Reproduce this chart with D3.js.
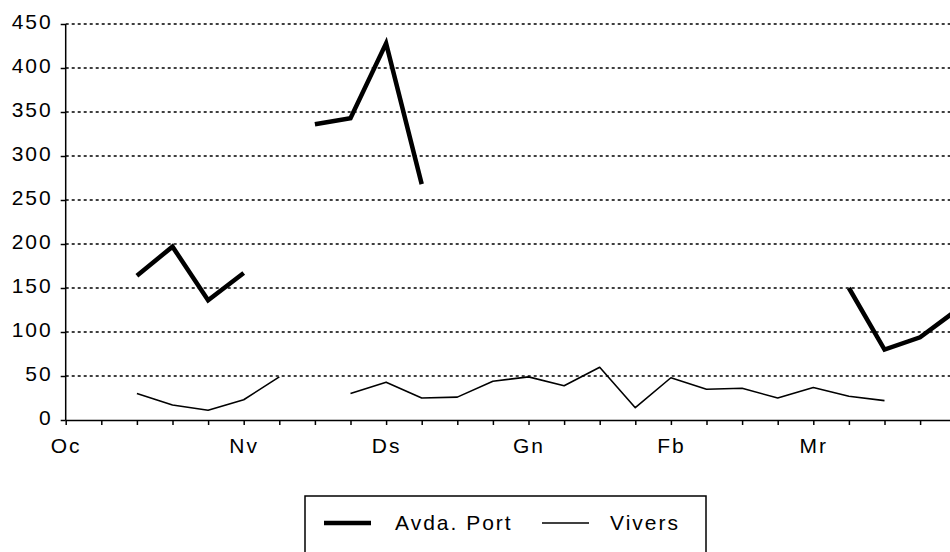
<!DOCTYPE html>
<html>
<head>
<meta charset="utf-8">
<script src="https://cdn.jsdelivr.net/npm/d3@7"></script>
<style>
  body { margin: 0; background: #fff; }
  svg { display: block; font-family: "Liberation Sans", Arial, sans-serif; }
  .axis text { font-size: 21px; letter-spacing: 2px; fill: #000; }
  .axis path, .axis line { stroke: #000; stroke-width: 1.5; }
  .grid line { stroke: #000; stroke-width: 1.5; stroke-dasharray: 3,3; }
</style>
</head>
<body>
<svg id="chart" width="950" height="552"></svg>
<script>
// weekly points, Oc .. Mr (null = no reading)
const weeks = d3.range(0, 26);
const monthLabels = { 0: 'Oc', 5: 'Nv', 9: 'Ds', 13: 'Gn', 17: 'Fb', 21: 'Mr' };
const avdaPort = [null, null, 164, 197, 136, 167, null, 336, 343, 428, 268, null, null,
                  null, null, null, null, null, null, null, null, null, 150, 80, 94, 124];
const vivers = [null, null, 30, 17, 11, 23, 49, null, 30, 43, 25, 26, 44,
                49, 39, 60, 14, 48, 35, 36, 25, 37, 27, 22, null, null];
const yTicks = [0, 50, 100, 150, 200, 250, 300, 350, 400, 450];
const seriesNames = ['Avda. Port', 'Vivers'];

const svg = d3.select('#chart');
const w = 950;

const plotLeft = 65.7, plotTop = 24, plotBottom = 420;

// x: one step per week, the plot runs past the right edge like the original
const x = d3.scaleLinear().domain([0, 25]).range([plotLeft, plotLeft + 25 * 35.6]);
const y = d3.scaleLinear().domain([0, 450]).range([plotBottom, plotTop]);

// dotted gridlines
svg.append('g').attr('class', 'grid')
  .selectAll('line')
  .data(yTicks.filter(d => d > 0))
  .join('line')
  .attr('x1', plotLeft).attr('x2', w)
  .attr('y1', d => y(d)).attr('y2', d => y(d));

// axes
const xAxis = d3.axisBottom(x).tickValues(weeks).tickSize(5).tickPadding(13)
  .tickFormat(i => monthLabels[i] || '');
svg.append('g').attr('class', 'axis')
  .attr('transform', `translate(0 ${plotBottom})`)
  .call(xAxis)
  .call(g => g.select('.domain').attr('d', `M${plotLeft},0.5H${w}`));

const yAxis = d3.axisLeft(y).tickValues(yTicks).tickSize(5).tickPadding(8);
svg.append('g').attr('class', 'axis')
  .attr('transform', `translate(${plotLeft} 0)`)
  .call(yAxis)
  .call(g => g.select('.domain').attr('d', `M0,${plotTop}V${plotBottom}`))
  .call(g => g.selectAll('text').attr('dy', '0.22em'));

// lines, broken where a week has no value
const line = d3.line()
  .defined(d => d != null)
  .x((d, i) => x(i))
  .y(d => y(d));

svg.append('path')
  .datum(vivers)
  .attr('fill', 'none')
  .attr('stroke', '#000')
  .attr('stroke-width', 1.6)
  .attr('stroke-linejoin', 'round')
  .attr('d', line);

svg.append('path')
  .datum(avdaPort)
  .attr('fill', 'none')
  .attr('stroke', '#000')
  .attr('stroke-width', 4.5)
  .attr('stroke-linejoin', 'miter')
  .attr('d', line);

// legend box at the bottom
const legend = svg.append('g').attr('transform', 'translate(305 496)');
legend.append('rect')
  .attr('x', 0).attr('y', 0).attr('width', 401).attr('height', 70)
  .attr('fill', '#fff').attr('stroke', '#000').attr('stroke-width', 1.5);

const items = [
  { name: seriesNames[0], width: 4.5, lx: 19, tx: 90 },
  { name: seriesNames[1], width: 1.6, lx: 237, tx: 305 }
];
items.forEach(it => {
  legend.append('line')
    .attr('x1', it.lx).attr('x2', it.lx + 47)
    .attr('y1', 27).attr('y2', 27)
    .attr('stroke', '#000').attr('stroke-width', it.width);
  legend.append('text')
    .attr('x', it.tx).attr('y', 34)
    .attr('font-size', 21).attr('letter-spacing', '2px')
    .text(it.name);
});
</script>
</body>
</html>
